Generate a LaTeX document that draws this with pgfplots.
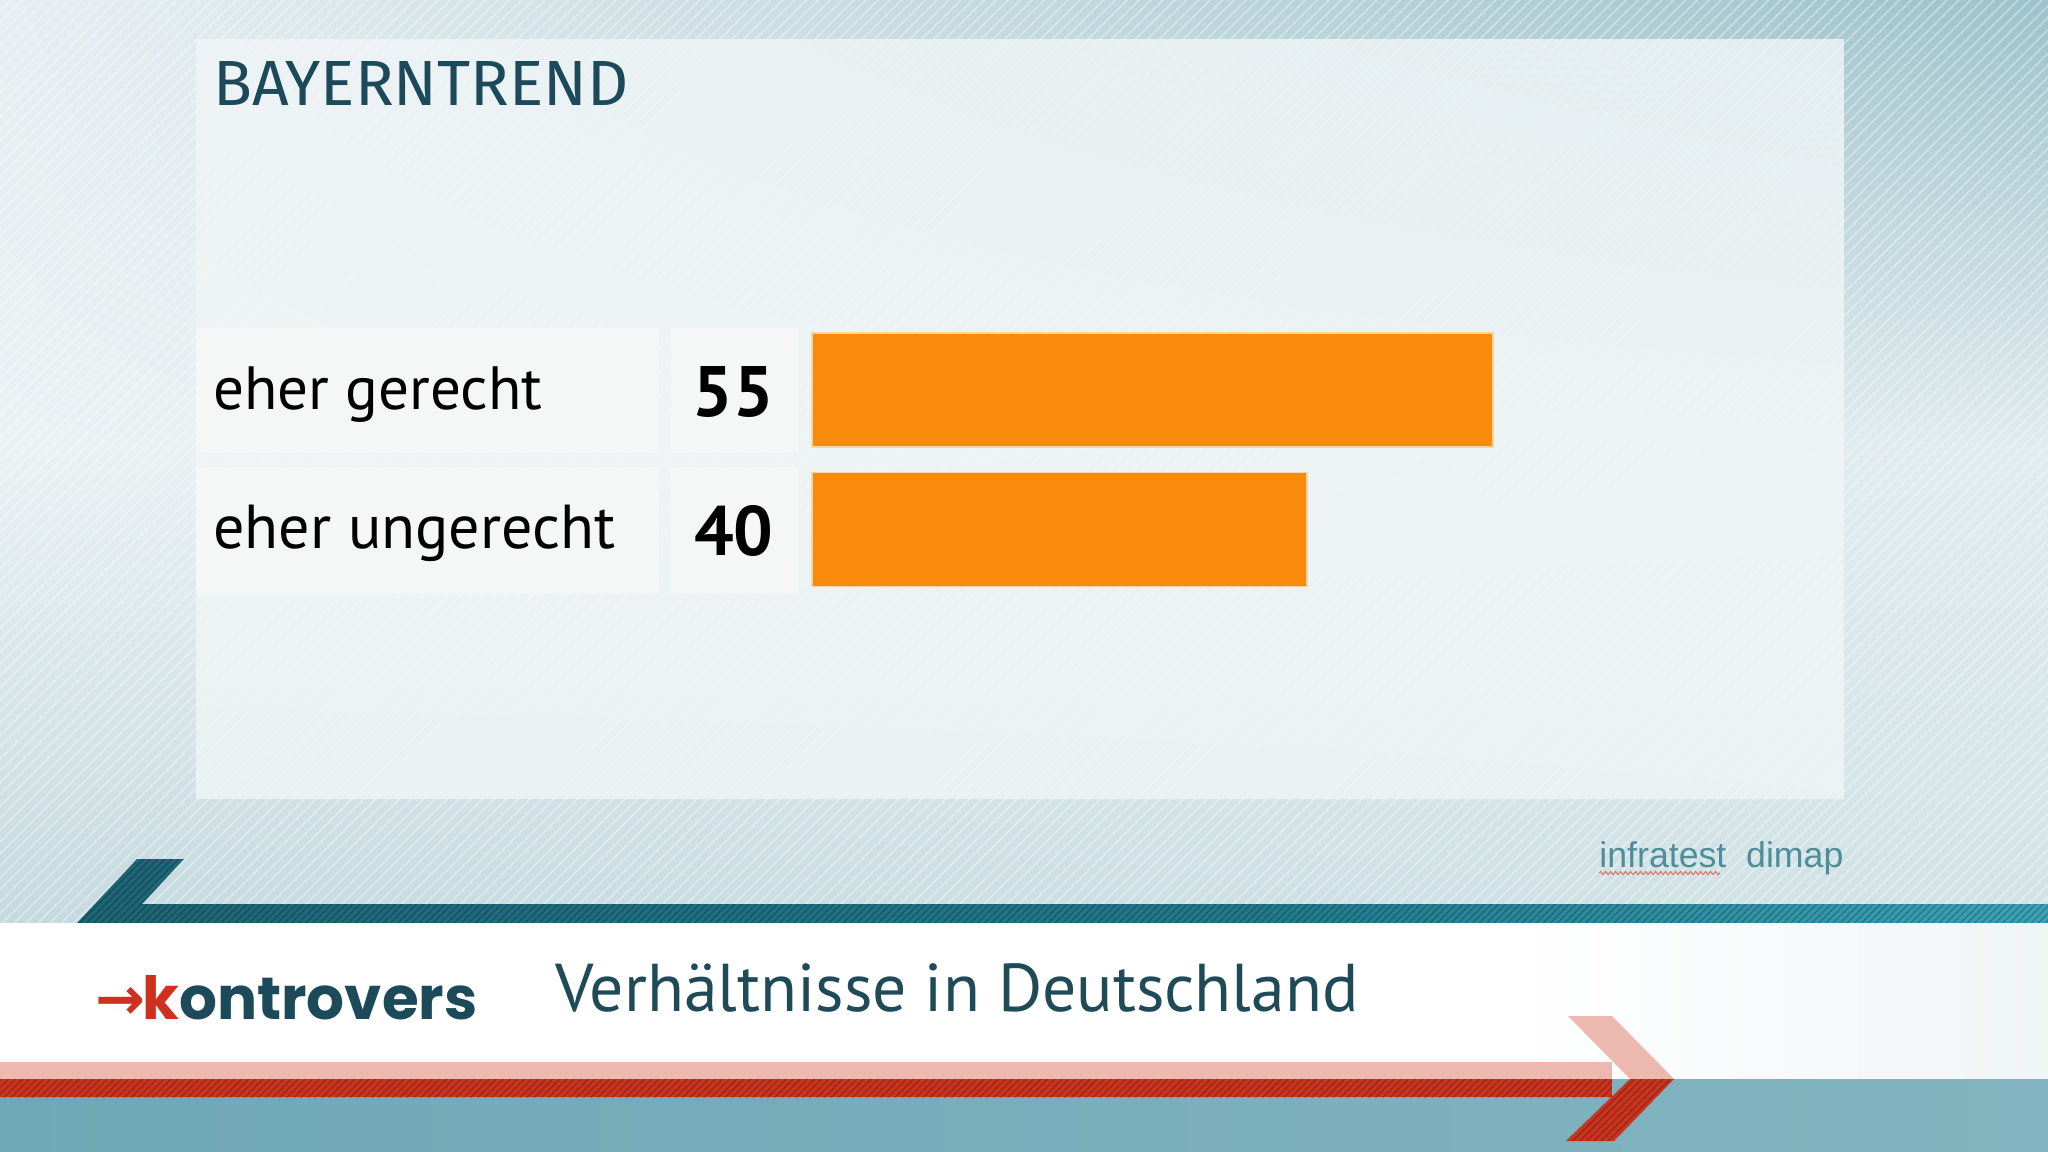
\documentclass[border=0pt]{standalone}
\usepackage{fontspec}
\setmainfont{PT Sans}
\newfontfamily\poppins{Poppins}
\newfontfamily\arialf{Liberation Sans}
\newfontfamily\trendfont{Fira Sans}
\newfontfamily\dejavu{DejaVu Sans}
\usepackage{graphicx}
\usepackage{pgfplots}
\pgfplotsset{compat=1.18}
\usetikzlibrary{decorations.pathmorphing,shadings,patterns.meta}
\definecolor{barorange}{HTML}{F98B0C}
\definecolor{baredge}{HTML}{FBD3A6}
\definecolor{darkteal}{HTML}{1C4A5A}
\definecolor{titleteal}{HTML}{1F4A58}
\definecolor{boxgray}{HTML}{F5F6F6}
\definecolor{kred}{HTML}{D0301E}
\definecolor{infra}{HTML}{4E8D99}
\definecolor{bgA}{HTML}{E6EEF1}
\definecolor{bgB}{HTML}{9CC2CB}
\definecolor{bgC}{HTML}{EAF1F3}
\definecolor{bgD}{HTML}{E0EBEE}
\definecolor{bgE}{HTML}{B8D2D8}
\definecolor{bgF}{HTML}{CCE0E4}
\definecolor{panel}{HTML}{F0F5F6}
\definecolor{redstripe}{HTML}{C9341F}
\definecolor{pinkstripe}{HTML}{EDB8AE}
\definecolor{tA}{HTML}{1B5363}
\definecolor{tB}{HTML}{22798D}
\definecolor{tC}{HTML}{3FA8BD}
\definecolor{tD}{HTML}{7CC6D5}
\definecolor{tE}{HTML}{B5DEE6}
\definecolor{btA}{HTML}{65A2B0}
\definecolor{btB}{HTML}{8BBAC5}
\pgfdeclarehorizontalshading{tealstripe}{100bp}{color(0bp)=(tA); color(55bp)=(tB); color(78bp)=(tC); color(90bp)=(tD); color(100bp)=(tE)}
\pgfdeclarehorizontalshading{whiteband}{100bp}{color(0bp)=(bgC); color(15bp)=(white); color(62bp)=(white); color(80bp)=(bgC); color(100bp)=(bgF)}
\pgfdeclarehorizontalshading{bottomteal}{100bp}{color(0bp)=(btA); color(100bp)=(btB)}
\begin{document}
\begin{tikzpicture}[x=0.5pt,y=-0.5pt]
\path[use as bounding box] (0,0) rectangle (2048,1151);
% background
\shade[upper left=bgA, upper right=bgB, lower left=bgC, lower right=bgD] (0,0) rectangle (2048,450);
\shade[upper left=bgC, upper right=bgD, lower left=bgE, lower right=bgF] (0,450) rectangle (2048,1079);
\begin{scope}[opacity=0.35]
\fill[pattern={Lines[angle=45,distance=4.2pt,line width=0.9pt]}, pattern color=white] (0,0) rectangle (2048,1151);
\end{scope}
\fill[panel, opacity=0.82] (196,39) rectangle (1844,799);
% teal stripe
\shade[shading=tealstripe] (77,923) -- (137,859) -- (184,859) -- (142,904) -- (2048,904) -- (2048,923) -- cycle;
% white band
\shade[shading=whiteband] (0,923) rectangle (2048,1079);
% bottom teal
\shade[shading=bottomteal] (0,1079) rectangle (2048,1151);
% red stripe and arrow
\fill[pinkstripe] (0,1062) rectangle (1612,1079);
\fill[redstripe] (0,1079) rectangle (1612,1097);
\fill[pinkstripe] (1568,1016) -- (1612,1016) -- (1674,1079) -- (1630,1079) -- cycle;
\fill[redstripe] (1630,1079) -- (1674,1079) -- (1614,1141) -- (1566,1141) -- cycle;
\begin{scope}[opacity=0.25]
\fill[pattern={Lines[angle=45,distance=2.5pt,line width=0.6pt]}, pattern color=black] (77,923) -- (137,859) -- (184,859) -- (142,904) -- (2048,904) -- (2048,923) -- cycle;
\fill[pattern={Lines[angle=45,distance=2.5pt,line width=0.6pt]}, pattern color=black] (0,1079) rectangle (1612,1097);
\fill[pattern={Lines[angle=45,distance=2.5pt,line width=0.6pt]}, pattern color=black] (1630,1079) -- (1674,1079) -- (1614,1141) -- (1566,1141) -- cycle;
\end{scope}
% label boxes
\fill[boxgray] (196,328) rectangle (659,453);
\fill[boxgray] (671,328) rectangle (798,453);
\fill[boxgray] (196,467) rectangle (659,594);
\fill[boxgray] (671,467) rectangle (798,594);
% texts
\node[anchor=south west, inner sep=0pt, text=darkteal] at (213,106) {\resizebox{207.5pt}{22pt}{\trendfont BAYERNTREND}};
\node[anchor=base west, inner sep=0pt] at (95,1019) {\resizebox{191pt}{!}{\textcolor{kred}{\dejavu\bfseries →}\kern-0.05em\poppins\bfseries\textcolor{kred}{k}\textcolor{darkteal}{ontrovers}}};
\node[anchor=base west, inner sep=0pt, text=titleteal] at (555,1011) {\resizebox{401.5pt}{!}{Verhältnisse in Deutschland}};
\node[anchor=base west, inner sep=0pt, text=infra] at (1599,867) {\resizebox{122pt}{!}{\arialf infratest\ \ dimap}};
\draw[kred!70, line width=0.5pt, decorate, decoration={snake, amplitude=0.8pt, segment length=2.5pt}] (1599,873) -- (1720,873);
\begin{axis}[
  at={(406pt,-299.625pt)}, anchor=south west,
  scale only axis, width=371.4pt, height=139.5pt,
  xmin=0, xmax=60, ymin=-0.5, ymax=1.5,
  axis line style={draw=none}, tick style={draw=none},
  xtick=\empty, ytick={0,1},
  yticklabels={{\resizebox{201pt}{!}{eher ungerecht}},{\resizebox{164.5pt}{!}{eher gerecht}}},
  yticklabel style={anchor=base west, inner sep=0pt, xshift=-299.5pt, yshift=-9.5pt, text=black},
  clip=false,
]
\addplot[xbar, bar width=57pt, fill=barorange, draw=baredge, line width=0.8pt] coordinates {(55,1) (40,0)};
\addplot[draw=none, mark=none, point meta=explicit symbolic,
  nodes near coords={\resizebox{!}{25pt}{\bfseries\pgfplotspointmeta}},
  every node near coord/.style={anchor=base east, inner sep=0pt, xshift=-19pt, yshift=-13pt, text=black}]
  coordinates {(0,1) [55] (0,0) [40]};
\end{axis}
\end{tikzpicture}
\end{document}
